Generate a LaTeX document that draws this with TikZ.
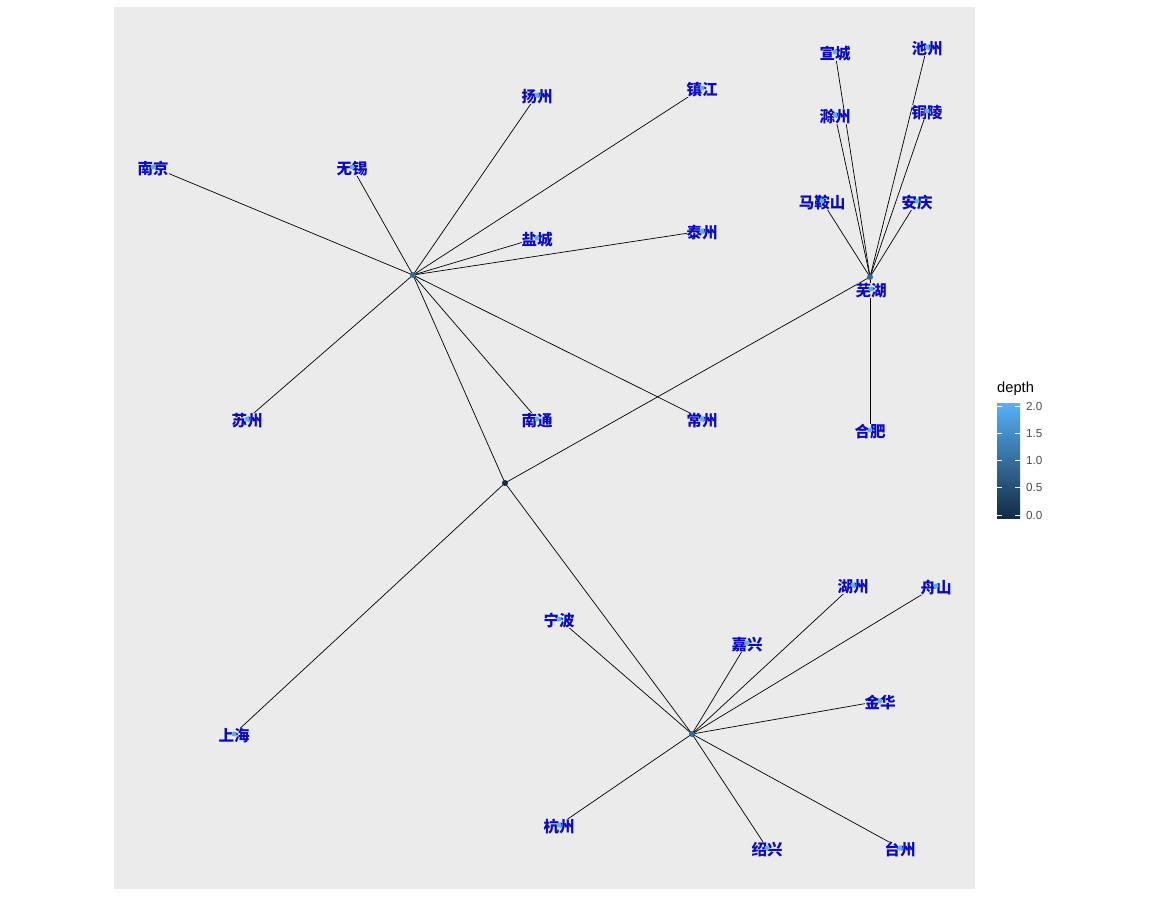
\documentclass[tikz,border=0pt]{standalone}
\usepackage{fontspec}
\setmainfont{Liberation Sans}
\newfontfamily\cjk{Noto Sans CJK SC}
\definecolor{panelbg}{HTML}{EBEBEB}
\definecolor{labblue}{HTML}{0A0AC0}
\definecolor{leafc}{HTML}{56B1F7}
\definecolor{hubc}{HTML}{336A98}
\definecolor{rootc}{HTML}{132B43}
\definecolor{ticklab}{HTML}{4D4D4D}
\begin{document}
\begin{tikzpicture}[x=1pt,y=-1pt,
  edge/.style={draw=black,line width=0.7pt},
  lbl/.style={font=\cjk\bfseries\fontsize{15.5}{16}\selectfont,text=labblue,fill=panelbg,inner sep=0pt,yshift=-1.5pt},
  leafpt/.style={circle,fill=leafc,inner sep=0pt,minimum size=5pt},
  hubpt/.style={circle,fill=hubc,inner sep=0pt,minimum size=6pt},
  rootpt/.style={circle,fill=rootc,inner sep=0pt,minimum size=6pt},
  ticklbl/.style={anchor=west,inner sep=0pt,font=\fontsize{11.7}{13}\selectfont,text=ticklab},
  tickmark/.style={draw=white,line width=0.8pt}
]
\useasboundingbox[fill=white] (0,0) rectangle (1163,900);
\fill[panelbg] (114,7) rectangle (975,889);

% hubs
\coordinate (root) at (505,483);
\coordinate (js) at (413,275);
\coordinate (ah) at (870,277);
\coordinate (zj) at (692,734);
% leaves
\coordinate (sh) at (234,734);
\coordinate (nj) at (153,167);
\coordinate (wx) at (352,167);
\coordinate (yz) at (537,95);
\coordinate (zjg) at (702,88);
\coordinate (yc) at (537,238);
\coordinate (tz) at (702,231);
\coordinate (sz) at (247,419);
\coordinate (nt) at (537,419);
\coordinate (cz) at (702,419);
\coordinate (xc) at (835,52);
\coordinate (chz) at (927,47);
\coordinate (cu) at (835,115);
\coordinate (tl) at (927,111);
\coordinate (mas) at (822,201);
\coordinate (aq) at (917,201);
\coordinate (wh) at (871,289);
\coordinate (hf) at (870,430);
\coordinate (nb) at (559,619);
\coordinate (jx) at (747,643);
\coordinate (hz) at (853,585);
\coordinate (zs) at (936,586);
\coordinate (jh) at (880,701);
\coordinate (hgz) at (559,825);
\coordinate (sx) at (767,848);
\coordinate (tzz) at (900,848);

% edges
\foreach \t in {js,ah,zj,sh} \draw[edge] (root) -- (\t);
\foreach \t in {nj,wx,yz,zjg,yc,tz,sz,nt,cz} \draw[edge] (js) -- (\t);
\foreach \t in {xc,chz,cu,tl,mas,aq,wh,hf} \draw[edge] (ah) -- (\t);
\foreach \t in {nb,jx,hz,zs,jh,hgz,sx,tzz} \draw[edge] (zj) -- (\t);

% labels
\node[lbl] (l-sh) at (sh) {上海};
\node[lbl] (l-nj) at (nj) {南京};
\node[lbl] (l-wx) at (wx) {无锡};
\node[lbl] (l-yz) at (yz) {扬州};
\node[lbl] (l-zjg) at (zjg) {镇江};
\node[lbl] (l-yc) at (yc) {盐城};
\node[lbl] (l-tz) at (tz) {泰州};
\node[lbl] (l-sz) at (sz) {苏州};
\node[lbl] (l-nt) at (nt) {南通};
\node[lbl] (l-cz) at (cz) {常州};
\node[lbl] (l-xc) at (xc) {宣城};
\node[lbl] (l-chz) at (chz) {池州};
\node[lbl] (l-cu) at (cu) {滁州};
\node[lbl] (l-tl) at (tl) {铜陵};
\node[lbl] (l-mas) at (mas) {马鞍山};
\node[lbl] (l-aq) at (aq) {安庆};
\node[lbl] (l-wh) at (wh) {芜湖};
\node[lbl] (l-hf) at (hf) {合肥};
\node[lbl] (l-nb) at (nb) {宁波};
\node[lbl] (l-jx) at (jx) {嘉兴};
\node[lbl] (l-hz) at (hz) {湖州};
\node[lbl] (l-zs) at (zs) {舟山};
\node[lbl] (l-jh) at (jh) {金华};
\node[lbl] (l-hgz) at (hgz) {杭州};
\node[lbl] (l-sx) at (sx) {绍兴};
\node[lbl] (l-tzz) at (tzz) {台州};

% points
\foreach \t in {sh,nj,wx,yz,zjg,yc,tz,sz,nt,cz,xc,chz,cu,tl,mas,aq,wh,hf,nb,jx,hz,zs,jh,hgz,sx,tzz}
  \node[leafpt] (p-\t) at (\t) {};
\foreach \t in {js,ah,zj} \node[hubpt] (p-\t) at (\t) {};
\node[rootpt] (p-root) at (root) {};

% legend
\node[anchor=base west,inner sep=0pt,font=\fontsize{14.67}{16}\selectfont] (legtitle) at (997,392) {depth};
\shade[top color=leafc, middle color=hubc, bottom color=rootc] (997,403) rectangle (1020,518);
\foreach \v/\y in {2.0/406,1.5/433.25,1.0/460.5,0.5/487.75,0.0/515} {
  \draw[tickmark] (997,\y) -- (1001.6,\y);
  \draw[tickmark] (1015.4,\y) -- (1020,\y);
  \node[ticklbl] at (1026,\y) {\v};
}
\end{tikzpicture}
\end{document}
